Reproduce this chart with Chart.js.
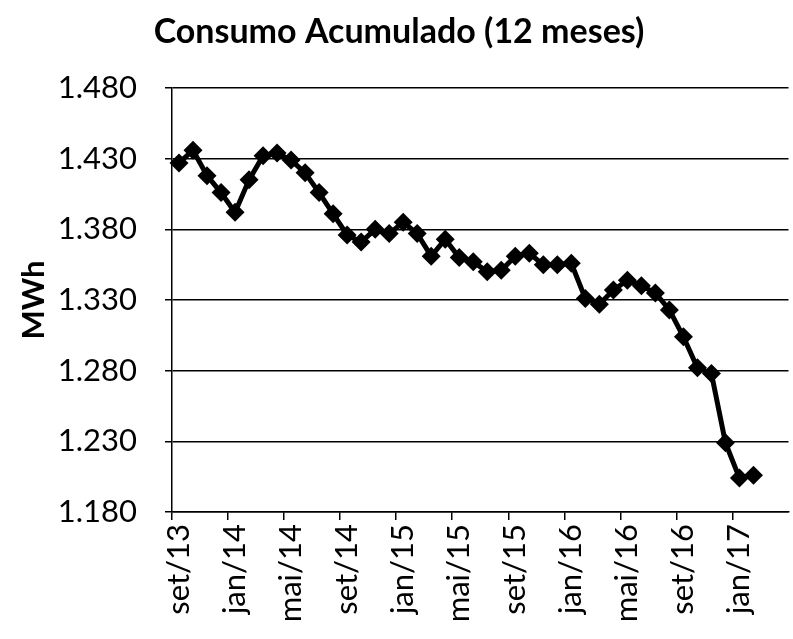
<!DOCTYPE html>
<html>
<head>
<meta charset="utf-8">
<script src="https://cdn.jsdelivr.net/npm/chart.js@4.4.1/dist/chart.umd.min.js"></script>
<style>
  html, body { margin: 0; padding: 0; background: #fff; overflow: hidden; }
  canvas { display: block; }
</style>
</head>
<body>
<canvas id="consumo" width="798" height="639"></canvas>
<script>
// meses (o eixo continua depois de fev/17, sem dados)
const meses = [
  'set/13', 'out/13', 'nov/13', 'dez/13',
  'jan/14', 'fev/14', 'mar/14', 'abr/14', 'mai/14', 'jun/14', 'jul/14', 'ago/14', 'set/14', 'out/14', 'nov/14', 'dez/14',
  'jan/15', 'fev/15', 'mar/15', 'abr/15', 'mai/15', 'jun/15', 'jul/15', 'ago/15', 'set/15', 'out/15', 'nov/15', 'dez/15',
  'jan/16', 'fev/16', 'mar/16', 'abr/16', 'mai/16', 'jun/16', 'jul/16', 'ago/16', 'set/16', 'out/16', 'nov/16', 'dez/16',
  'jan/17', 'fev/17', 'mar/17', 'abr/17'
];

// consumo acumulado 12 meses (MWh)
const consumo = [
  1427, 1436, 1418, 1406,
  1392, 1415, 1432, 1434, 1429, 1420, 1406, 1391, 1376, 1371, 1380, 1377,
  1385, 1377, 1361, 1373, 1360, 1357, 1350, 1351, 1361, 1363, 1355, 1355,
  1356, 1331, 1327, 1337, 1344, 1340, 1335, 1323, 1304, 1282, 1278, 1229,
  1204, 1206, null, null
];

// eixo y
const yMin = 1180;
const yMax = 1480;
const yPasso = 50;

const fonte = 'Lato, "Open Sans", sans-serif';

// 1480 -> "1.480"
const formatar = v => Math.floor(v / 1000) + '.' + String(v % 1000).padStart(3, '0');

new Chart(document.getElementById('consumo'), {
    type: 'line',
    data: {
        labels: meses,
        datasets: [{
            label: 'Consumo Acumulado',
            data: consumo,
            borderColor: '#000',
            backgroundColor: '#000',
            borderWidth: 5,
            pointStyle: 'rectRot',
            pointRadius: 9.5,
            pointBorderWidth: 0,
            pointBackgroundColor: '#000',
            tension: 0,
            fill: false
        }]
    },
    options: {
        responsive: false,
        animation: false,
        layout: { padding: 0 },
        plugins: {
            legend: { display: false },
            tooltip: { enabled: false },
            title: {
                display: true,
                text: 'Consumo Acumulado (12 meses)',
                color: '#000',
                font: { family: fonte, size: 34, weight: 'bold' },
                padding: { top: 12, bottom: 35.2 }
            }
        },
        scales: {
            x: {
                type: 'category',
                offset: true,
                afterFit: s => {
                    s.height = 127;
                    s.paddingLeft = 0;
                    s.paddingRight = 0;
                },
                border: { display: true, color: '#000', width: 1.5 },
                grid: {
                    offset: true,
                    drawOnChartArea: false,
                    drawTicks: true,
                    tickLength: 8,
                    lineWidth: 1.5,
                    color: c => (c.index % 4 === 0 ? '#000' : 'rgba(0,0,0,0)')
                },
                ticks: {
                    autoSkip: false,
                    maxRotation: 90,
                    minRotation: 90,
                    padding: 4,
                    color: '#000',
                    font: { family: fonte, size: 31 },
                    callback: (v, i) => (i % 4 === 0 ? meses[i] : '')
                }
            },
            y: {
                min: yMin,
                max: yMax,
                afterFit: s => { s.width = 172; },
                border: { display: true, color: '#000', width: 1.5 },
                grid: {
                    color: '#000',
                    lineWidth: 1.5,
                    drawTicks: true,
                    tickLength: 7
                },
                ticks: {
                    stepSize: yPasso,
                    padding: 28,
                    color: '#000',
                    font: { family: fonte, size: 31 },
                    callback: v => formatar(v)
                },
                title: {
                    display: true,
                    text: 'MWh',
                    color: '#000',
                    font: { family: fonte, size: 31, weight: 'bold' },
                    padding: { top: 15, bottom: 0 }
                }
            }
        }
    }
});
</script>
</body>
</html>
